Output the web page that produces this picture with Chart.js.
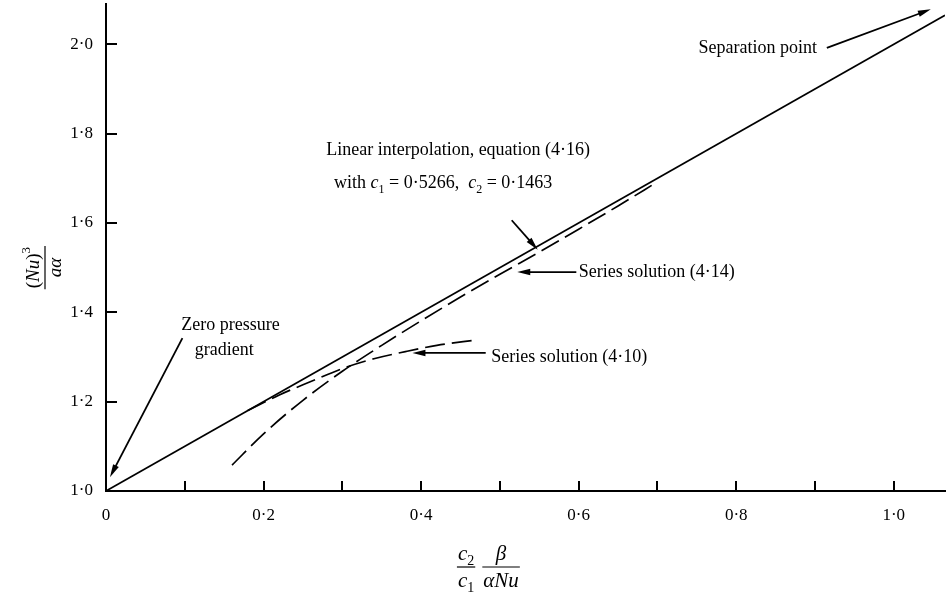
<!DOCTYPE html>
<html><head><meta charset="utf-8">
<script src="https://cdn.jsdelivr.net/npm/chart.js@4.4.0/dist/chart.umd.min.js"></script>
<style>html,body{margin:0;padding:0;background:#fff;}canvas{display:block;}</style>
</head><body>
<canvas id="c" width="947" height="594"></canvas>
<script>
// ---- data ----
const linearX = [0, 1.065];
const linearY = [1.0, 2.065];
const s414X = [0.16, 0.2, 0.25, 0.3, 0.35, 0.4, 0.45, 0.5, 0.55, 0.6, 0.65, 0.7];
const s414Y = [1.058, 1.128, 1.203, 1.268, 1.326, 1.381, 1.434, 1.485, 1.535, 1.586, 1.638, 1.692];
const s410X = [0.18, 0.22, 0.26, 0.30, 0.34, 0.38, 0.42, 0.47];
const s410Y = [1.18, 1.215, 1.245, 1.274, 1.296, 1.312, 1.326, 1.338];
const xTickValues = [0, 0.2, 0.4, 0.6, 0.8, 1.0];
const xTickLabels = ['0', '0·2', '0·4', '0·6', '0·8', '1·0'];
const xMinorValues = [0.1, 0.2, 0.3, 0.4, 0.5, 0.6, 0.7, 0.8, 0.9, 1.0];
const yTickValues = [1.0, 1.2, 1.4, 1.6, 1.8, 2.0];
const yTickLabels = ['1·0', '1·2', '1·4', '1·6', '1·8', '2·0'];
const xRange = [0, 1.065];
const yRange = [1.0, 2.09];

// annotation texts (data coordinates)
const labelTexts = [
  {x: 0.158, y: 1.371, text: 'Zero pressure', align: 'center'},
  {x: 0.150, y: 1.316, text: 'gradient', align: 'center'},
  {x: 0.447, y: 1.763, text: 'Linear interpolation, equation (4·16)', align: 'center'},
  {x: 0.600, y: 1.490, text: 'Series solution (4·14)', align: 'left'},
  {x: 0.489, y: 1.300, text: 'Series solution (4·10)', align: 'left'},
  {x: 0.752, y: 1.990, text: 'Separation point', align: 'left'}
];
const arrows = [
  {from: [0.097, 1.342], to: [0.005, 1.031]},
  {from: [0.515, 1.606], to: [0.548, 1.540]},
  {from: [0.597, 1.490], to: [0.522, 1.490]},
  {from: [0.482, 1.309], to: [0.389, 1.309]},
  {from: [0.915, 1.992], to: [1.047, 2.078]}
];

const SERIF = '"Liberation Serif", "DejaVu Serif", serif';
const pts = (xs, ys) => xs.map((v, i) => ({x: v, y: ys[i]}));

function drawArrow(ctx, x1, y1, x2, y2) {
  const ang = Math.atan2(y2 - y1, x2 - x1);
  const hl = 13, hw = 3.2;
  ctx.beginPath();
  ctx.moveTo(x1, y1);
  ctx.lineTo(x2 - Math.cos(ang) * hl * 0.7, y2 - Math.sin(ang) * hl * 0.7);
  ctx.stroke();
  ctx.beginPath();
  ctx.moveTo(x2, y2);
  ctx.lineTo(x2 - Math.cos(ang) * hl - Math.sin(ang) * hw, y2 - Math.sin(ang) * hl + Math.cos(ang) * hw);
  ctx.lineTo(x2 - Math.cos(ang) * hl + Math.sin(ang) * hw, y2 - Math.sin(ang) * hl - Math.cos(ang) * hw);
  ctx.closePath();
  ctx.fill();
}

function segFont(s, size) {
  return (s.it ? 'italic ' : '') + (s.sub ? Math.round(size * 0.68) : size) + 'px ' + SERIF;
}
function richWidth(ctx, segs, size) {
  let w = 0;
  for (const s of segs) { ctx.font = segFont(s, size); w += ctx.measureText(s.t).width; }
  return w;
}
function drawRich(ctx, segs, cx, baseY, size) {
  const w = richWidth(ctx, segs, size);
  let x = cx - w / 2;
  ctx.textAlign = 'left';
  ctx.textBaseline = 'alphabetic';
  for (const s of segs) {
    ctx.font = segFont(s, size);
    const dy = s.sub ? size * 0.25 : 0;
    ctx.fillText(s.t, x, baseY + dy);
    x += ctx.measureText(s.t).width;
  }
  return w;
}

const annotPlugin = {
  id: 'annot',
  afterDraw(chart) {
    const ctx = chart.ctx;
    const xs = chart.scales.x, ys = chart.scales.y;
    const X = v => xs.getPixelForValue(v), Y = v => ys.getPixelForValue(v);
    const area = chart.chartArea;
    ctx.save();
    ctx.strokeStyle = '#000';
    ctx.fillStyle = '#000';
    // inward tick marks
    ctx.lineWidth = 2;
    ctx.beginPath();
    for (const v of xMinorValues) {
      const p = Math.round(X(v));
      ctx.moveTo(p, area.bottom);
      ctx.lineTo(p, area.bottom - 10);
    }
    for (const v of yTickValues) {
      if (v === yRange[0]) continue;
      const p = Math.round(Y(v));
      ctx.moveTo(area.left, p);
      ctx.lineTo(area.left + 11, p);
    }
    ctx.stroke();

    // texts
    ctx.textBaseline = 'middle';
    for (const l of labelTexts) {
      ctx.textAlign = l.align;
      ctx.font = '18px ' + SERIF;
      ctx.fillText(l.text, X(l.x), Y(l.y));
    }
    drawRich(ctx, [
      {t: 'with '}, {t: 'c', it: true}, {t: '1', sub: true}, {t: ' = 0·5266,  '},
      {t: 'c', it: true}, {t: '2', sub: true}, {t: ' = 0·1463'}
    ], X(0.428), Y(1.691) + 6, 18);

    // arrows
    ctx.lineWidth = 1.8;
    for (const a of arrows) drawArrow(ctx, X(a.from[0]), Y(a.from[1]), X(a.to[0]), Y(a.to[1]));

    // x-axis title
    const cx = X(0.485);
    const barY = area.bottom + 76;
    const fs = 21;
    ctx.lineWidth = 1.2;
    const f1x = cx - 22, f2x = cx + 13;
    const w1 = richWidth(ctx, [{t: 'c', it: true}, {t: '1', sub: true}], fs);
    drawRich(ctx, [{t: 'c', it: true}, {t: '2', sub: true}], f1x, barY - 7, fs);
    drawRich(ctx, [{t: 'c', it: true}, {t: '1', sub: true}], f1x, barY + 20, fs);
    ctx.beginPath(); ctx.moveTo(f1x - w1 / 2 - 1, barY); ctx.lineTo(f1x + w1 / 2 + 1, barY); ctx.stroke();
    const w2 = richWidth(ctx, [{t: 'αNu', it: true}], fs);
    drawRich(ctx, [{t: 'β', it: true}], f2x, barY - 7, fs);
    drawRich(ctx, [{t: 'αNu', it: true}], f2x, barY + 20, fs);
    ctx.beginPath(); ctx.moveTo(f2x - w2 / 2 - 1, barY); ctx.lineTo(f2x + w2 / 2 + 1, barY); ctx.stroke();

    // y-axis title, rotated
    const fy = 19;
    ctx.save();
    ctx.translate(45, Y(1.5));
    ctx.rotate(-Math.PI / 2);
    const n1 = [{t: '('}, {t: 'Nu', it: true}, {t: ')'}];
    const wn = richWidth(ctx, n1, fy);
    ctx.font = Math.round(fy * 0.68) + 'px ' + SERIF;
    const ws = ctx.measureText('3').width;
    const wTot = wn + ws;
    drawRich(ctx, n1, -ws / 2, -6, fy);
    ctx.font = Math.round(fy * 0.68) + 'px ' + SERIF;
    ctx.textAlign = 'left';
    ctx.fillText('3', -wTot / 2 + wn, -6 - fy * 0.45);
    drawRich(ctx, [{t: 'aα', it: true}], 0, 16, fy);
    ctx.beginPath(); ctx.moveTo(-wTot / 2 - 1, 0); ctx.lineTo(wTot / 2 + 1, 0); ctx.stroke();
    ctx.restore();

    ctx.restore();
  }
};

new Chart(document.getElementById('c'), {
  type: 'scatter',
  data: {
    datasets: [
      {data: pts(linearX, linearY), showLine: true, borderColor: '#000', borderWidth: 1.7, pointRadius: 0, tension: 0},
      {data: pts(s414X, s414Y), showLine: true, borderColor: '#000', borderWidth: 1.7, borderDash: [20, 7], pointRadius: 0, cubicInterpolationMode: 'monotone'},
      {data: pts(s410X, s410Y), showLine: true, borderColor: '#000', borderWidth: 1.7, borderDash: [20, 7], pointRadius: 0, cubicInterpolationMode: 'monotone'}
    ]
  },
  options: {
    responsive: false,
    animation: false,
    devicePixelRatio: 1,
    layout: {padding: {top: 4, right: 2, left: 0, bottom: 0}},
    plugins: {legend: {display: false}, tooltip: {enabled: false}},
    scales: {
      x: {
        type: 'linear', min: xRange[0], max: xRange[1],
        afterBuildTicks: s => { s.ticks = xTickValues.map(v => ({value: v})); },
        afterFit: s => { s.height = 103; s.paddingLeft = 0; s.paddingRight = 0; s.paddingTop = 0; s.paddingBottom = 0; },
        grid: {display: false, drawTicks: false},
        border: {display: true, color: '#000', width: 2},
        ticks: {
          padding: 14, color: '#000', font: {family: SERIF, size: 17},
          maxRotation: 0, autoSkip: false,
          callback: v => { const i = xTickValues.findIndex(t => Math.abs(t - v) < 1e-9); return i >= 0 ? xTickLabels[i] : ''; }
        }
      },
      y: {
        type: 'linear', min: yRange[0], max: yRange[1],
        afterBuildTicks: s => { s.ticks = yTickValues.map(v => ({value: v})); },
        afterFit: s => { s.width = 106; s.paddingLeft = 0; s.paddingRight = 0; s.paddingTop = 0; s.paddingBottom = 0; },
        grid: {display: false, drawTicks: false},
        border: {display: true, color: '#000', width: 2},
        ticks: {
          padding: 13, color: '#000', font: {family: SERIF, size: 17},
          autoSkip: false,
          callback: v => { const i = yTickValues.findIndex(t => Math.abs(t - v) < 1e-9); return i >= 0 ? yTickLabels[i] : ''; }
        }
      }
    }
  },
  plugins: [annotPlugin]
});
</script>
</body></html>
